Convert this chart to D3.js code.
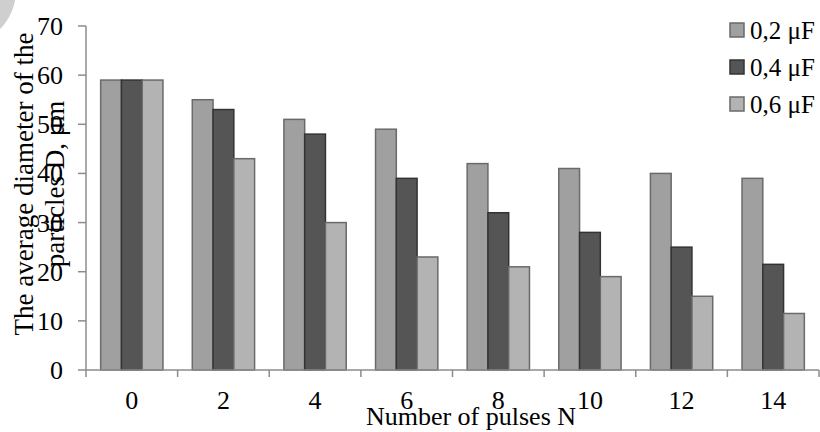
<!DOCTYPE html>
<html>
<head>
<meta charset="utf-8">
<script src="https://cdn.jsdelivr.net/npm/d3@7"></script>
<style>
  body { margin: 0; background: #fff; }
  text { font-family: "Liberation Serif", "Times New Roman", serif; fill: #000; }
</style>
</head>
<body>
<svg id="chart" width="820" height="432"></svg>
<script>
// data
const pulses = ["0", "2", "4", "6", "8", "10", "12", "14"];
const seriesNames = ["0,2 μF", "0,4 μF", "0,6 μF"];
const c02 = [59, 55, 51, 49, 42, 41, 40, 39];
const c04 = [59, 53, 48, 39, 32, 28, 25, 21.5];
const c06 = [59, 43, 30, 23, 21, 19, 15, 11.5];
const yTicks = [0, 10, 20, 30, 40, 50, 60, 70];

const fills = ["#a0a0a0", "#555555", "#b3b3b3"];
const strokes = ["#6a6a6a", "#333333", "#6a6a6a"];
const values = [c02, c04, c06];

const svg = d3.select("#chart");
const mLeft = 86, mRight = 819, mTop = 26, mBottom = 370;

// decorative grey blob in the top-left corner
svg.append("circle")
  .attr("cx", -40).attr("cy", -10).attr("r", 56)
  .attr("fill", "#cfcfcf");

const x0 = d3.scaleBand().domain(pulses).range([mLeft, mRight]).padding(0);
const bw = x0.bandwidth();
const x1 = d3.scaleBand().domain(seriesNames).range([bw * 0.16, bw * 0.84]).padding(0);
const y = d3.scaleLinear().domain([0, 70]).range([mBottom, mTop]);

// bars
const groups = svg.append("g").selectAll("g")
  .data(pulses)
  .join("g")
  .attr("transform", d => `translate(${x0(d)},0)`);

groups.selectAll("rect")
  .data((d, i) => seriesNames.map((s, k) => ({ s, k, v: values[k][i] })))
  .join("rect")
  .attr("x", d => x1(d.s))
  .attr("width", x1.bandwidth())
  .attr("y", d => y(d.v))
  .attr("height", d => y(0) - y(d.v))
  .attr("fill", d => fills[d.k])
  .attr("stroke", d => strokes[d.k])
  .attr("stroke-width", 1.5);

// y axis
const axisCol = "#8c8c8c";
svg.append("line")
  .attr("x1", mLeft).attr("x2", mLeft).attr("y1", mTop).attr("y2", mBottom)
  .attr("stroke", axisCol).attr("stroke-width", 1.5);
svg.append("g").selectAll("line")
  .data(yTicks).join("line")
  .attr("x1", mLeft - 8).attr("x2", mLeft)
  .attr("y1", d => y(d)).attr("y2", d => y(d))
  .attr("stroke", axisCol).attr("stroke-width", 1.5);
svg.append("g").selectAll("text")
  .data(yTicks).join("text")
  .attr("x", 63).attr("y", d => y(d) + 9)
  .attr("text-anchor", "end")
  .attr("font-size", 26)
  .text(d => d);

// x axis
svg.append("line")
  .attr("x1", mLeft).attr("x2", mRight).attr("y1", mBottom).attr("y2", mBottom)
  .attr("stroke", axisCol).attr("stroke-width", 1.5);
const tickXs = pulses.map(p => x0(p)).concat([mRight]);
svg.append("g").selectAll("line")
  .data(tickXs).join("line")
  .attr("x1", d => d).attr("x2", d => d)
  .attr("y1", mBottom).attr("y2", mBottom + 7)
  .attr("stroke", axisCol).attr("stroke-width", 1.5);
svg.append("g").selectAll("text")
  .data(pulses).join("text")
  .attr("x", d => x0(d) + bw / 2).attr("y", 409)
  .attr("text-anchor", "middle")
  .attr("font-size", 26)
  .text(d => d);

// axis titles
svg.append("text")
  .attr("x", 471).attr("y", 425)
  .attr("text-anchor", "middle")
  .attr("font-size", 26)
  .text("Number of pulses N");

const yTitle = svg.append("text")
  .attr("transform", "translate(0,184) rotate(-90)")
  .attr("text-anchor", "middle")
  .attr("font-size", 27);
yTitle.append("tspan").attr("x", 0).attr("y", 33).text("The average diameter of the");
yTitle.append("tspan").attr("x", 0).attr("y", 64).text("particles D, μm");

// legend
const legend = svg.append("g").selectAll("g")
  .data(seriesNames).join("g")
  .attr("transform", (d, i) => `translate(730,${30 + i * 37})`);
legend.append("rect")
  .attr("x", 0).attr("y", -7).attr("width", 14).attr("height", 14)
  .attr("fill", (d, i) => fills[i])
  .attr("stroke", (d, i) => strokes[i])
  .attr("stroke-width", 1.5);
legend.append("text")
  .attr("x", 20).attr("y", 8.5)
  .attr("font-size", 25)
  .text(d => d);
</script>
</body>
</html>
